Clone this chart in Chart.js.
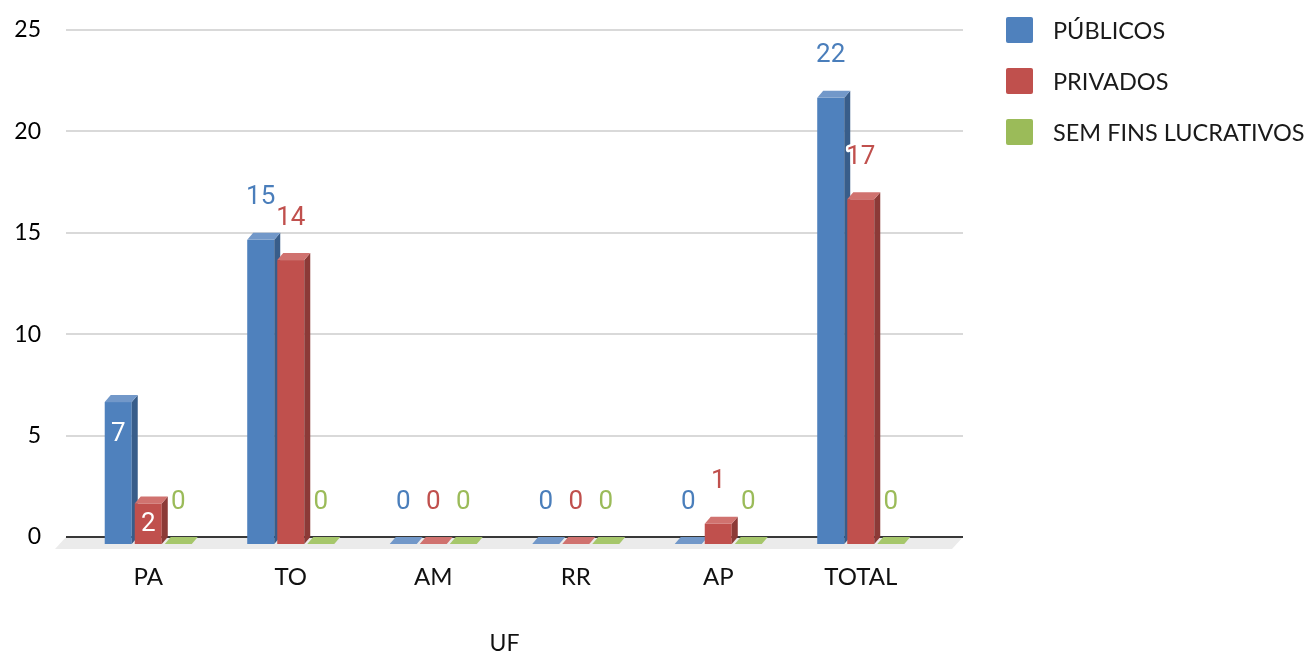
<!DOCTYPE html>
<html><head><meta charset="utf-8">
<script src="https://cdn.jsdelivr.net/npm/chart.js@4.4.1/dist/chart.umd.min.js"></script>
<style>html,body{margin:0;padding:0;background:#fff;}#wrap{width:1313px;height:655px;position:relative;}</style>
</head><body><div id="wrap"><canvas id="c"></canvas></div>
<script>
// ---- data ----
const categories = ['PA', 'TO', 'AM', 'RR', 'AP', 'TOTAL'];
const seriesNames = ['PÚBLICOS', 'PRIVADOS', 'SEM FINS LUCRATIVOS'];
const publicos = [7, 15, 0, 0, 0, 22];
const privados = [2, 14, 0, 0, 1, 17];
const semFins = [0, 0, 0, 0, 0, 0];
const yTickValues = [0, 5, 10, 15, 20, 25];
const xTitle = 'UF';

// ---- styling ----
const palette = [
  {front: '#4f81bd', side: '#385d8a', top: '#7298c9', label: '#4a7ebb'},
  {front: '#c0504d', side: '#8c3a37', top: '#d0726f', label: '#c0504d'},
  {front: '#9bbb59', side: '#73893f', top: '#a6c76b', label: '#9bbb59'}
];
// labels drawn inside the bar (dataset index -> category indices)
const insideLabels = {0: [0], 1: [0]};
const DX = 6, DY = 7;

const plugin3d = {
  id: 'plugin3d',
  beforeDatasetsDraw(chart) {
    const {ctx, chartArea: a, scales: {y}} = chart;
    const gl = a.left - 11, gr = a.right + 31;
    const y0 = y.getPixelForValue(0);
    ctx.save();
    ctx.lineWidth = 2;
    ctx.strokeStyle = '#d9d9d9';
    y.ticks.forEach(t => {
      if (t.value === 0) return;
      const py = Math.round(y.getPixelForValue(t.value));
      ctx.beginPath(); ctx.moveTo(gl, py); ctx.lineTo(gr, py); ctx.stroke();
    });
    ctx.fillStyle = '#ebebeb';
    ctx.beginPath();
    ctx.moveTo(gl, y0); ctx.lineTo(gr, y0); ctx.lineTo(gr - 11, y0 + 12); ctx.lineTo(gl - 11, y0 + 12);
    ctx.closePath(); ctx.fill();
    ctx.strokeStyle = '#383838';
    ctx.beginPath(); ctx.moveTo(gl, y0); ctx.lineTo(gr, y0); ctx.stroke();
    ctx.restore();
  },
  beforeDatasetDraw() { return false; },
  afterDatasetsDraw(chart) {
    const ctx = chart.ctx;
    const n = chart.data.labels.length;
    ctx.save();
    for (let i = 0; i < n; i++) {
      chart.data.datasets.forEach((ds, d) => {
        const el = chart.getDatasetMeta(d).data[i];
        const {x, y, base, width} = el.getProps(['x', 'y', 'base', 'width'], true);
        const p = palette[d];
        const l = x - width / 2, r = x + width / 2;
        const ft = y + DY, fb = base + DY;
        ctx.fillStyle = p.front;
        ctx.fillRect(l, ft, width, fb - ft);
        ctx.fillStyle = p.side;
        ctx.beginPath(); ctx.moveTo(r, ft); ctx.lineTo(r + DX, y); ctx.lineTo(r + DX, base); ctx.lineTo(r, fb); ctx.closePath(); ctx.fill();
        ctx.fillStyle = p.top;
        ctx.beginPath(); ctx.moveTo(l, ft); ctx.lineTo(r, ft); ctx.lineTo(r + DX, y); ctx.lineTo(l + DX, y); ctx.closePath(); ctx.fill();
      });
    }
    ctx.font = '26px Roboto';
    ctx.textAlign = 'center';
    ctx.textBaseline = 'middle';
    ctx.lineJoin = 'round';
    chart.data.datasets.forEach((ds, d) => {
      const meta = chart.getDatasetMeta(d);
      ds.data.forEach((v, i) => {
        const {x, y, base} = meta.data[i].getProps(['x', 'y', 'base'], true);
        const inside = (insideLabels[d] || []).includes(i);
        const txt = String(v);
        if (inside) {
          const ty = Math.min(y + 39, (y + base) / 2 + DY + 1);
          ctx.fillStyle = '#ffffff';
          ctx.fillText(txt, x, ty);
        } else {
          const ty = y - 35;
          ctx.strokeStyle = '#ffffff'; ctx.lineWidth = 5;
          ctx.strokeText(txt, x, ty);
          ctx.fillStyle = palette[d].label;
          ctx.fillText(txt, x, ty);
        }
      });
    });
    ctx.restore();
  },
  afterDraw(chart) {
    const ctx = chart.ctx;
    const a = chart.chartArea;
    ctx.save();
    ctx.font = '23.5px Lato';
    ctx.textBaseline = 'middle';
    ctx.textAlign = 'left';
    chart.data.datasets.forEach((ds, d) => {
      const cy = a.top + 51 * d;
      const bx = a.right + 74;
      ctx.fillStyle = palette[d].front;
      ctx.beginPath();
      if (ctx.roundRect) ctx.roundRect(bx, cy - 13, 27, 26, 2); else ctx.rect(bx, cy - 13, 27, 26);
      ctx.fill();
      ctx.fillStyle = '#1a1a1a';
      ctx.fillText(ds.label, bx + 47, cy + 1);
    });
    ctx.restore();
  }
};

const datasets = [publicos, privados, semFins].map((arr, d) => ({
  label: seriesNames[d],
  data: arr,
  backgroundColor: palette[d].front,
  categoryPercentage: 0.632,
  barPercentage: 0.9
}));

new Chart(document.getElementById('c'), {
  type: 'bar',
  data: {labels: categories, datasets},
  options: {
    responsive: true,
    maintainAspectRatio: false,
    animation: false,
    layout: {padding: {left: 12, right: 381, top: 30, bottom: 0}},
    plugins: {legend: {display: false}, tooltip: {enabled: false}},
    scales: {
      x: {
        grid: {display: false, drawTicks: false},
        border: {display: false},
        ticks: {padding: 26, color: '#111', font: {family: 'Lato', size: 24}},
        title: {display: true, text: xTitle, color: '#111', padding: 0, font: {family: 'Lato', size: 23, lineHeight: 1}},
        afterFit(s) { s.height = 118; }
      },
      y: {
        min: yTickValues[0],
        max: yTickValues[yTickValues.length - 1],
        afterBuildTicks(s) { s.ticks = yTickValues.map(v => ({value: v})); },
        grid: {display: false, drawTicks: false},
        border: {display: false},
        ticks: {padding: 36, color: '#000', font: {family: 'Lato', size: 23}},
        afterFit(s) { s.width = 65; s.paddingTop = 0; s.paddingBottom = 0; }
      }
    }
  },
  plugins: [plugin3d]
});
</script></body></html>
